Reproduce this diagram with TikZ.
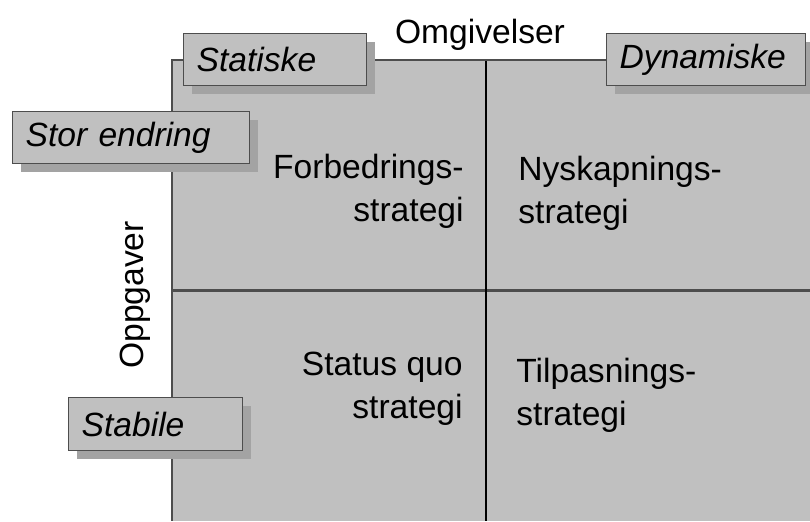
\documentclass[tikz,border=0pt]{standalone}
\usepackage{fontspec}
\setmainfont{Liberation Sans}
\usetikzlibrary{shadows}
\definecolor{cellgrey}{HTML}{C0C0C0}
\definecolor{shadegrey}{HTML}{A3A3A3}
\definecolor{edgegrey}{HTML}{4D4D4D}
\newcommand{\matrixfont}{\fontsize{16.8}{21.5}\selectfont}
\tikzset{
  labelbox/.style={draw=edgegrey,fill=cellgrey,line width=0.7pt,anchor=north west,
    font=\matrixfont\itshape,inner xsep=6.5pt,inner ysep=0pt,minimum height=26pt,align=left,
    general shadow={fill=shadegrey,shadow xshift=4pt,shadow yshift=-4pt}},
  celltext/.style={inner sep=0pt}
}
\begin{document}
\begin{tikzpicture}[x=0.5pt,y=-0.5pt,font=\matrixfont]
\useasboundingbox (0,0) rectangle (810,521);
%=======matrix=============
\coordinate (nw) at (172,60);
\coordinate (ne) at (810,60);
\coordinate (sw) at (172,521);
\fill[cellgrey] (nw) rectangle (810,521);
\draw[edgegrey,line width=1.5pt] (172,290) -- (810,290);
\draw[black,line width=1pt] (486,60) -- (486,521);
\draw[edgegrey,line width=1pt] (ne) -- (nw) -- (sw);
%=======axis titles=============
\node[celltext,anchor=base] (omg) at (480,43) {Omgivelser};
\node[celltext,rotate=90] (oppg) at (135,295) {Oppgaver};
%=======label boxes=============
\node[labelbox,text width=78.5pt] (stat) at (183,33) {Statiske};
\node[labelbox,text width=86.5pt] (dyn) at (606,33) {Dynamiske};
\node[labelbox,text width=105.5pt] (stor) at (12,111) {Stor endring};
\node[labelbox,text width=74pt,minimum height=26.5pt] (stab) at (68,397) {Stabile};
%=======cells=============
\node[celltext,anchor=north east,align=right] (forb) at (464,154) {Forbedrings-\\strategi};
\node[celltext,anchor=north west,align=left] (nysk) at (518,156) {Nyskapnings-\\strategi};
\node[celltext,anchor=north east,align=right] (quo) at (463,352) {Status quo\\strategi};
\node[celltext,anchor=north west,align=left] (tilp) at (516,358) {Tilpasnings-\\strategi};
\end{tikzpicture}
\end{document}
